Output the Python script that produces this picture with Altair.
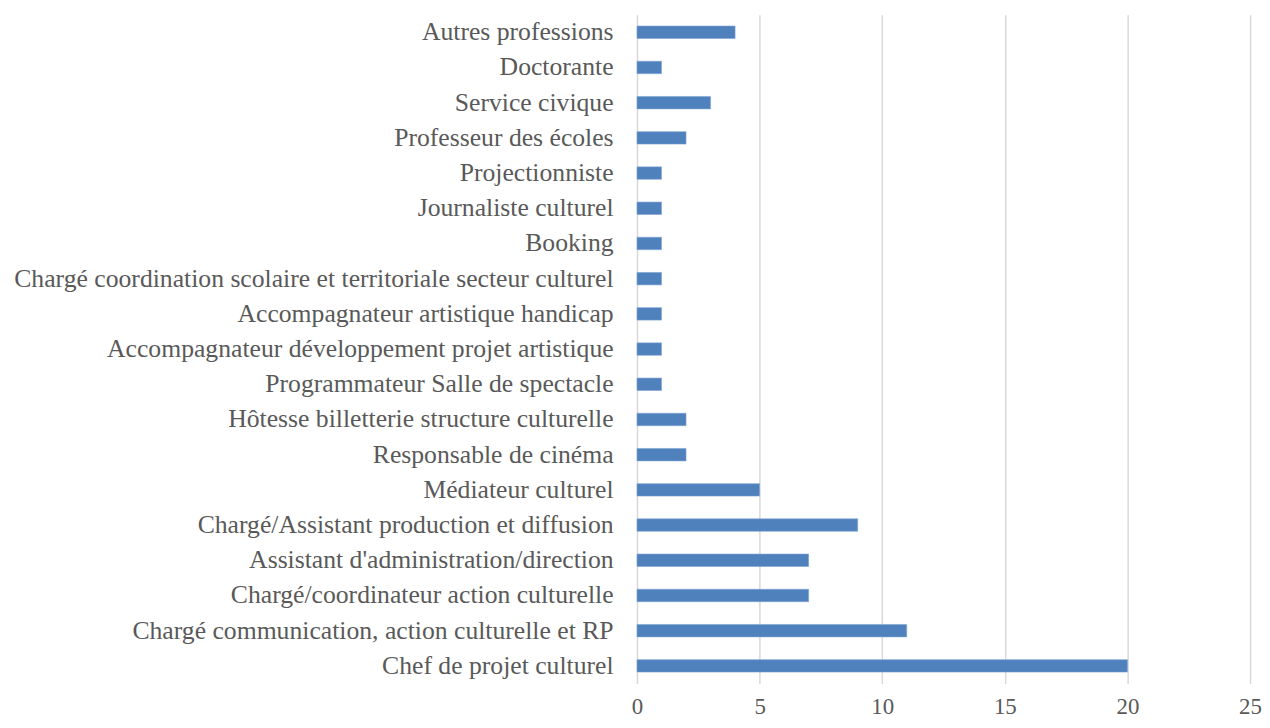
import altair as alt
import pandas as pd

categories = [
    "Autres professions",
    "Doctorante",
    "Service civique",
    "Professeur des écoles",
    "Projectionniste",
    "Journaliste culturel",
    "Booking",
    "Chargé coordination scolaire et territoriale secteur culturel",
    "Accompagnateur artistique handicap",
    "Accompagnateur développement projet artistique",
    "Programmateur Salle de spectacle",
    "Hôtesse billetterie structure culturelle",
    "Responsable de cinéma",
    "Médiateur culturel",
    "Chargé/Assistant production et diffusion",
    "Assistant d'administration/direction",
    "Chargé/coordinateur action culturelle",
    "Chargé communication, action culturelle et RP",
    "Chef de projet culturel",
]
values = [4, 1, 3, 2, 1, 1, 1, 1, 1, 1, 1, 2, 2, 5, 9, 7, 7, 11, 20]
x_ticks = [0, 5, 10, 15, 20, 25]

df = pd.DataFrame({"cat": categories, "val": values})

FONT = "Liberation Serif"
TXT = "#595959"

chart = (
    alt.Chart(df)
    .mark_bar(color="#4F81BD", size=12.5, stroke="#7FA3D3", strokeWidth=0.6)
    .encode(
        x=alt.X(
            "val:Q",
            scale=alt.Scale(domain=[0, 25], nice=False, zero=True),
            axis=alt.Axis(
                values=x_ticks,
                title=None,
                domain=False,
                ticks=False,
                grid=True,
                gridColor="#D9D9D9",
                gridWidth=1.5,
                labelFont=FONT,
                labelFontSize=23,
                labelColor=TXT,
                labelPadding=12,
                labelFlush=False,
                labelOverlap=False,
            ),
        ),
        y=alt.Y(
            "cat:N",
            sort=categories,
            scale=alt.Scale(paddingInner=0.64, paddingOuter=0.32),
            axis=alt.Axis(
                title=None,
                domain=False,
                ticks=False,
                labelFont=FONT,
                labelFontSize=25.8,
                labelColor=TXT,
                labelPadding=24,
                labelLimit=1000,
                minExtent=621,
                maxExtent=621,
            ),
        ),
        tooltip=["cat", "val"],
    )
    .properties(width=616, height=672, padding={"left": 5, "top": 5, "right": 0, "bottom": 0})
    .configure_view(stroke=None)
)

chart.save("out.html", embed_options={"renderer": "svg", "actions": False})
